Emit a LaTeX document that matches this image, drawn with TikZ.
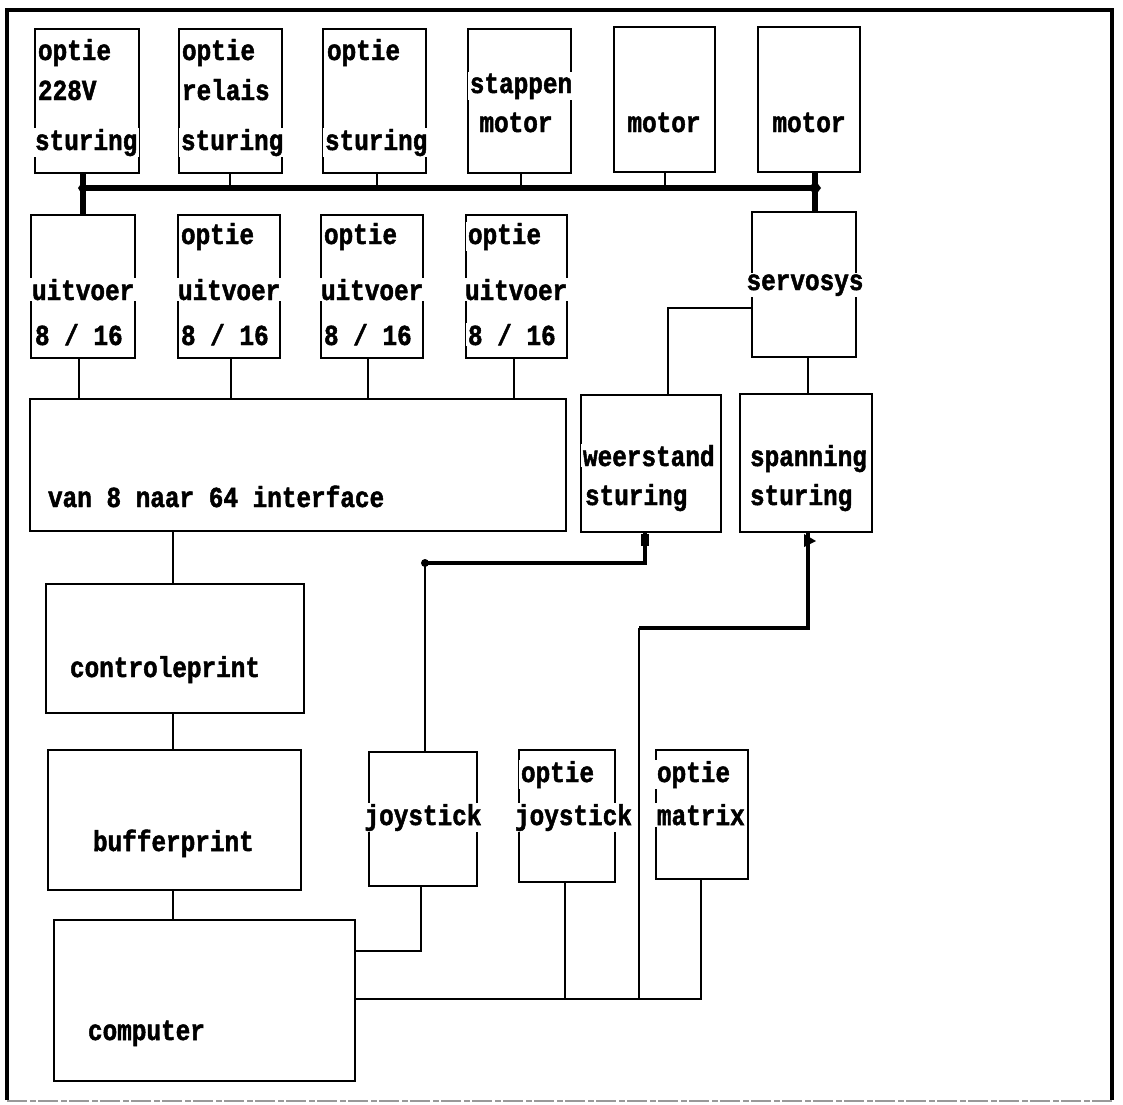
\documentclass[tikz,border=0pt]{standalone}
\usepackage{fontspec}
\newfontfamily\pixfont[FakeStretch=0.84,FakeBold=1.6]{Liberation Mono}
\begin{document}
\begin{tikzpicture}[x=0.5pt,y=-0.5pt,
  box/.style={draw, line width=1.4pt, inner sep=0pt, outer sep=0pt},
  sz/.style 2 args={minimum width={(#1)*0.5pt}, minimum height={(#2)*0.5pt}},
  lbl/.style={font=\pixfont\bfseries\fontsize{14.5}{17}\selectfont, fill=white, inner xsep=0.8pt, inner ysep=0.6pt},
  wire/.style={line width=1pt},
  heavy/.style={line width=2.2pt},
  busline/.style={line width=3.2pt},
  blob/.style={fill=black}]
\newcommand\blok[5]{\node[box, sz={#4-#2}{#5-#3}] (#1) at ({(#2+#4)/2},{(#3+#5)/2}) {};}
\useasboundingbox (0,0) rectangle (1123,1104);

% outer frame
\draw[line width=1.6pt] (7,1100) -- (7,10) -- (1112,10) -- (1112,1100);
\draw[line width=0.8pt, black!40, dash pattern=on 10pt off 1.5pt on 3pt off 1pt] (7,1101) -- (1112,1101);

% top row
\blok{b1}{35}{29}{139}{173}
\blok{b2}{179}{29}{282}{173}
\blok{b3}{323}{29}{426}{173}
\blok{b4}{468}{29}{571}{173}
\blok{b5}{614}{27}{715}{172}
\blok{b6}{758}{27}{860}{172}

% output cards
\blok{u1}{31}{215}{135}{358}
\blok{u2}{178}{215}{280}{358}
\blok{u3}{321}{215}{423}{358}
\blok{u4}{466}{215}{567}{358}
\blok{servo}{752}{212}{856}{357}

% interface and drivers
\blok{iface}{30}{399}{566}{531}
\blok{weer}{581}{395}{721}{532}
\blok{span}{740}{394}{872}{532}

% computer side
\blok{ctrl}{46}{584}{304}{713}
\blok{buf}{48}{750}{301}{890}
\blok{comp}{54}{920}{355}{1081}
\blok{joy}{369}{752}{477}{886}
\blok{ojoy}{519}{750}{615}{882}
\blok{omat}{656}{750}{748}{879}

% bus
\coordinate (busL) at (83,188);
\coordinate (busR) at (815,188);
\draw[busline] (busL) -- (busR);
\draw[busline] (b1.south -| busL) -- (u1.north -| busL);
\draw[busline] (b6.south -| busR) -- (servo.north -| busR);
\fill[blob] (busL) ++(-5,0) -- ++(5,-7) -- ++(5,7) -- ++(-5,8) -- cycle;
\fill[blob] (busR) ++(-6,0) -- ++(6,-8) -- ++(6,8) -- ++(-6,8) -- cycle;
\foreach \n/\x in {b2/230, b3/377, b4/521, b5/665}
  \draw[wire] (\n.south -| \x,0) -- (\x,188);
\foreach \n/\x in {u1/79, u2/231, u3/368, u4/514}
  \draw[wire] (\n.south -| \x,0) -- (iface.north -| \x,0);

% servo loop
\coordinate (sv) at (668,308);
\draw[wire] (servo.west |- sv) -- (sv) -- (weer.north -| sv);
\draw[wire] (servo.south -| 808,0) -- (span.north -| 808,0);

% processor chain
\draw[wire] (iface.south -| 173,0) -- (ctrl.north -| 173,0);
\draw[wire] (ctrl.south -| 173,0) -- (buf.north -| 173,0);
\draw[wire] (buf.south -| 173,0) -- (comp.north -| 173,0);

% joystick to resistance driver
\coordinate (jk) at (425,563);
\coordinate (wk) at (645,563);
\draw[wire] (joy.north -| jk) -- (jk);
\draw[heavy] (jk) -- (wk) -- (weer.south -| wk);
\fill[blob] (jk) circle (4);
\fill[blob] (weer.south -| wk) ++(-4,2) rectangle ++(8,12);

% joystick to computer
\coordinate (jc) at (421,951);
\draw[wire] (joy.south -| jc) -- (jc) -- (comp.east |- jc);

% computer output line
\coordinate (cl) at (355,999);
\coordinate (cr) at (701,999);
\coordinate (vk) at (639,628);
\coordinate (sk) at (808,628);
\draw[wire] (comp.east |- cl) -- (cr) -- (omat.south -| cr);
\draw[wire] (ojoy.south -| 565,0) -- (565,999);
\draw[wire] (639,999) -- (vk);
\draw[heavy] (vk) -- (sk) -- (span.south -| sk);
\fill[blob] (span.south -| sk) ++(-4,2) -- ++(12,7) -- ++(-12,6) -- cycle;

% labels, top row
\node[lbl, anchor=base west] (t1a) at (36,60) {optie};
\node[lbl, anchor=base west] (t1b) at (36,100) {228V};
\node[lbl, anchor=base west] (t1c) at (33,150) {sturing};
\node[lbl, anchor=base west] (t2a) at (180,60) {optie};
\node[lbl, anchor=base west] (t2b) at (180,100) {relais};
\node[lbl, anchor=base west] (t2c) at (179,150) {sturing};
\node[lbl, anchor=base west] (t3a) at (325,60) {optie};
\node[lbl, anchor=base west] (t3c) at (323,150) {sturing};
\node[lbl, anchor=base] (t4a) at (521,93) {stappen};
\node[lbl, anchor=base] (t4b) at (516,132) {motor};
\node[lbl, anchor=base] (t5) at (664,132) {motor};
\node[lbl, anchor=base] (t6) at (809,132) {motor};

% labels, output cards
\node[lbl, anchor=base west] (tu1b) at (30,300) {uitvoer};
\node[lbl, anchor=base west] (tu1c) at (33,345) {8 / 16};
\node[lbl, anchor=base west] (tu2a) at (179,244) {optie};
\node[lbl, anchor=base west] (tu2b) at (176,300) {uitvoer};
\node[lbl, anchor=base west] (tu2c) at (179,345) {8 / 16};
\node[lbl, anchor=base west] (tu3a) at (322,244) {optie};
\node[lbl, anchor=base west] (tu3b) at (319,300) {uitvoer};
\node[lbl, anchor=base west] (tu3c) at (322,345) {8 / 16};
\node[lbl, anchor=base west] (tu4a) at (466,244) {optie};
\node[lbl, anchor=base west] (tu4b) at (463,300) {uitvoer};
\node[lbl, anchor=base west] (tu4c) at (466,345) {8 / 16};
\node[lbl, anchor=base] (tsv) at (805,290) {servosys};

% labels, middle
\node[lbl, anchor=base west] (tif) at (46,507) {van 8 naar 64 interface};
\node[lbl, anchor=base west] (tw1) at (581,466) {weerstand};
\node[lbl, anchor=base west] (tw2) at (583,505) {sturing};
\node[lbl, anchor=base west] (ts1) at (748,466) {spanning};
\node[lbl, anchor=base west] (ts2) at (748,505) {sturing};

% labels, bottom
\node[lbl, anchor=base west] (tct) at (68,677) {controleprint};
\node[lbl, anchor=base west] (tbf) at (91,851) {bufferprint};
\node[lbl, anchor=base west] (tcp) at (86,1040) {computer};
\node[lbl, anchor=base] (tj) at (423,825) {joystick};
\node[lbl, anchor=base west] (toj1) at (519,782) {optie};
\node[lbl, anchor=base west] (toj2) at (513,825) {joystick};
\node[lbl, anchor=base west] (tom1) at (655,782) {optie};
\node[lbl, anchor=base west] (tom2) at (655,825) {matrix};
\end{tikzpicture}
\end{document}
